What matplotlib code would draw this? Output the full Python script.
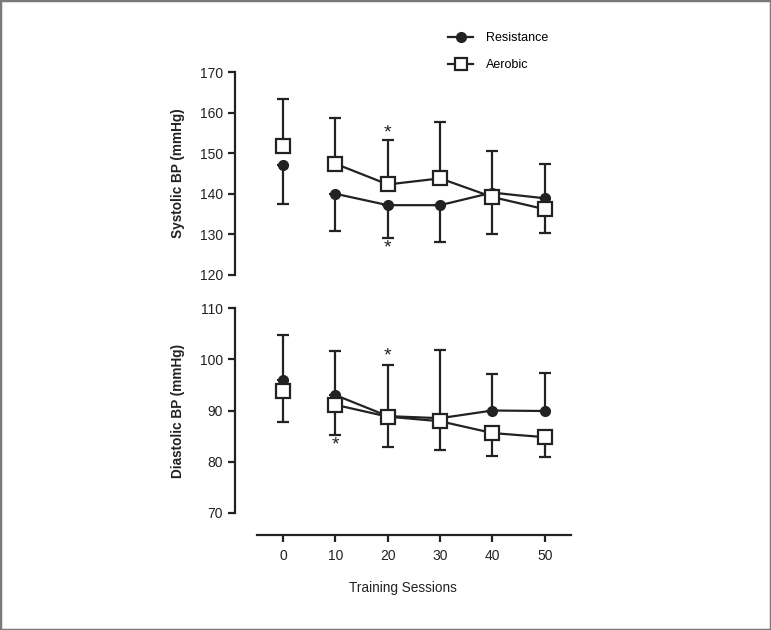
import matplotlib.pyplot as plt
from matplotlib.patches import Rectangle

plt.rcParams['font.family'] = ['Liberation Sans', 'DejaVu Sans']

sessions = [0, 10, 20, 30, 40, 50]

# systolic BP
sys_res = [147.0, 140.0, 137.2, 137.2, 140.3, 138.9]
sys_res_lo = [9.5, 9.1, 8.0, 9.0, 0, 0]
sys_res_hi = [0, 0, 0, 0, 10.2, 8.5]
sys_aer = [151.8, 147.4, 142.3, 143.8, 139.2, 136.2]
sys_aer_lo = [0, 0, 0, 0, 9.1, 5.8]
sys_aer_hi = [11.5, 11.2, 10.9, 13.8, 0, 0]

# diastolic BP
dia_res = [95.9, 93.0, 88.9, 88.5, 90.0, 89.9]
dia_res_lo = [0, 0, 0, 0, 0, 0]
dia_res_hi = [8.9, 8.6, 10.0, 13.4, 7.1, 7.4]
dia_aer = [93.9, 91.1, 88.8, 87.9, 85.6, 84.8]
dia_aer_lo = [6.1, 5.8, 5.9, 5.6, 4.5, 3.9]
dia_aer_hi = [0, 0, 0, 0, 0, 0]

sys_stars = [(20, 155.0), (20, 126.6)]
dia_stars = [(20, 100.6), (10, 83.3)]

col = '#222222'
W, H = 771, 630
fig = plt.figure(figsize=(W / 100, H / 100), dpi=100)
fig.patches.append(Rectangle((0, 0), 1, 1, transform=fig.transFigure, fill=False,
                             edgecolor='#7a7a7a', linewidth=2.5))

x_left, x_right = 235, 571


def make_ax(top_px, bot_px):
    return fig.add_axes([x_left / W, 1 - bot_px / H, (x_right - x_left) / W, (bot_px - top_px) / H])


def draw_panel(ax, res, res_lo, res_hi, aer, aer_lo, aer_hi, stars, ylim, yticks, ylabel):
    ax.errorbar(sessions, res, yerr=[res_lo, res_hi], fmt='none', ecolor=col,
                elinewidth=1.6, capsize=4.5, capthick=1.6, zorder=2)
    ax.errorbar(sessions, aer, yerr=[aer_lo, aer_hi], fmt='none', ecolor=col,
                elinewidth=1.6, capsize=4.5, capthick=1.6, zorder=2)
    ax.plot(sessions[1:], res[1:], color=col, lw=1.6, zorder=3)
    ax.plot(sessions[1:], aer[1:], color=col, lw=1.6, zorder=3)
    ax.plot(sessions, res, 'o', color=col, ms=7, zorder=4)
    ax.plot(sessions, aer, 's', mfc='white', mec=col, mew=1.6, ms=9.5, zorder=5)
    for sx, sy in stars:
        ax.text(sx, sy, '*', ha='center', va='center', fontsize=14, color=col)
    ax.set_xlim(-9.2, 55)
    ax.set_ylim(*ylim)
    ax.set_yticks(yticks)
    for s in ['top', 'right']:
        ax.spines[s].set_visible(False)
    ax.spines['left'].set_linewidth(1.6)
    ax.spines['left'].set_color(col)
    ax.tick_params(axis='y', length=5, width=1.6, color=col, labelsize=10, pad=3.5, labelcolor=col)
    ax.set_ylabel(ylabel, fontsize=9.8, fontweight='bold', color=col, labelpad=11)


ax1 = make_ax(72, 275)
draw_panel(ax1, sys_res, sys_res_lo, sys_res_hi, sys_aer, sys_aer_lo, sys_aer_hi,
           sys_stars, (120, 170), range(120, 171, 10), 'Systolic BP (mmHg)')
ax1.spines['bottom'].set_visible(False)
ax1.set_xticks([])

ax2 = make_ax(308, 513)
draw_panel(ax2, dia_res, dia_res_lo, dia_res_hi, dia_aer, dia_aer_lo, dia_aer_hi,
           dia_stars, (70, 110), range(70, 111, 10), 'Diastolic BP (mmHg)')
ax2.spines['bottom'].set_position(('outward', 16))
ax2.spines['bottom'].set_bounds(-5, 55)
ax2.spines['bottom'].set_linewidth(1.6)
ax2.spines['bottom'].set_color(col)
ax2.set_xticks(sessions)
ax2.tick_params(axis='x', length=5, width=1.6, color=col, labelsize=10, pad=5, labelcolor=col)
ax2.set_xlabel('Training Sessions', fontsize=9.8, color=col, labelpad=13)

h1, = ax1.plot([], [], '-o', color=col, lw=1.6, ms=7)
h2, = ax1.plot([], [], '-s', color=col, lw=1.6, ms=9, mfc='white', mew=1.6)
fig.legend([h1, h2], ['Resistance', 'Aerobic'], loc='upper left',
           bbox_to_anchor=(442 / W, 1 - 26 / H), frameon=False, fontsize=9,
           handlelength=2.0, handletextpad=1.0, labelspacing=1.2, borderpad=0)

fig.savefig('out.png', dpi=100)
